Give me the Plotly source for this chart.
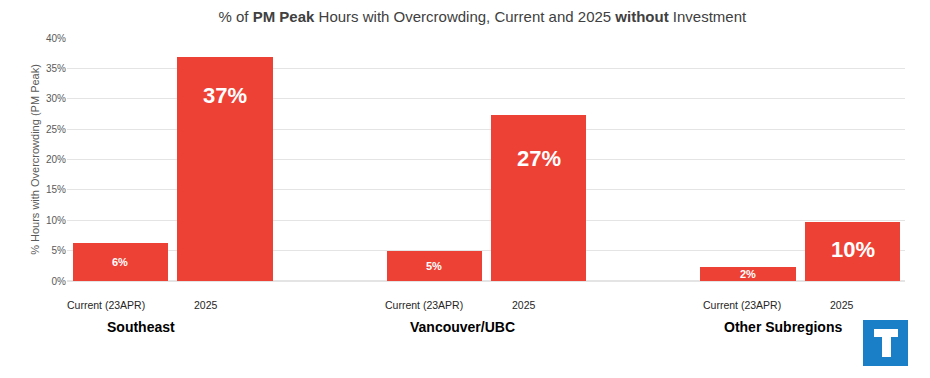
import plotly.graph_objects as go

# ---- data ----
tick_labels = ["Current (23APR)", "2025", "Current (23APR)", "2025", "Current (23APR)", "2025"]
bar_slots = [0, 1, 3, 4, 6, 7]
values = [6.2, 36.9, 4.9, 27.3, 2.3, 9.7]
value_labels = ["6%", "37%", "5%", "27%", "2%", "10%"]
groups = ["Southeast", "Vancouver/UBC", "Other Subregions"]

# ---- styling ----
label_sizes = [11, 22, 11, 22, 11, 22]
label_shift = [-19, -39, -15, -43, -7, -27]
tick_shift = [-14, -19, -10, -15, -6, -11]
group_x = [0.2, 3.27, 6.33]
BAR = "#EE4136"
GREY = "#595959"

OFF = 8  # page body margin
W, H = 930 - OFF, 378 - OFF
PL, PR, PT, PB = 67, 905, 38, 281  # plot area in window pixels
ML, MT = PL - OFF, PT - OFF
MR = W - (PR - OFF)
MB = H - (PB - OFF)
pw, ph = PR - PL, PB - PT

fig = go.Figure()
fig.add_trace(go.Bar(x=bar_slots, y=values, width=0.91, marker=dict(color=BAR, line=dict(width=0)),
                     hoverinfo="skip"))

for xs, v, t, s, dy in zip(bar_slots, values, value_labels, label_sizes, label_shift):
    fig.add_annotation(x=xs, y=v, xref="x", yref="y", text=f"<b>{t}</b>", showarrow=False,
                       yshift=dy, font=dict(family="Liberation Sans, Arial", size=s, color="white"))


def px(x):
    return (x - PL) / pw


def py(y):
    return (PB - y) / ph


for xs, t, dx in zip(bar_slots, tick_labels, tick_shift):
    fig.add_annotation(x=xs, y=py(305), xref="x", yref="paper", text=t, showarrow=False,
                       xshift=dx, yanchor="middle",
                       font=dict(family="Liberation Sans, Arial", size=10.5, color="#262626"))

for gx, g in zip(group_x, groups):
    fig.add_annotation(x=gx, y=py(327), xref="x", yref="paper", text=f"<b>{g}</b>",
                       showarrow=False, yanchor="middle",
                       font=dict(family="Liberation Sans, Arial", size=14, color="black"))

# logo
fig.add_shape(type="rect", xref="paper", yref="paper", x0=px(863), x1=px(908), y0=py(366), y1=py(320),
              fillcolor="#1B7FC7", line=dict(width=0), layer="above")
fig.add_shape(type="rect", xref="paper", yref="paper", x0=px(874), x1=px(898), y0=py(337), y1=py(329),
              fillcolor="white", line=dict(width=0), layer="above")
fig.add_shape(type="rect", xref="paper", yref="paper", x0=px(882), x1=px(891), y0=py(357), y1=py(329),
              fillcolor="white", line=dict(width=0), layer="above")

fig.update_layout(
    width=W, height=H,
    margin=dict(l=ML, r=MR, t=MT, b=MB, autoexpand=False),
    paper_bgcolor="white", plot_bgcolor="white",
    showlegend=False, bargap=0,
    title=dict(text="% of <b>PM Peak</b> Hours with Overcrowding, Current and 2025 <b>without</b> Investment",
               x=(465 - OFF) / W, xanchor="center", xref="paper", y=1 - (17 - OFF) / H, yanchor="middle",
               font=dict(family="Liberation Sans, Arial", size=15, color="#404040")),
    font=dict(family="Liberation Sans, Arial", color=GREY),
)
fig.update_xaxes(range=[-0.51, 7.5], tickvals=bar_slots, showticklabels=False, showgrid=False,
                 zeroline=False, showline=False, ticks="")
fig.update_yaxes(range=[0, 40], dtick=5, ticksuffix="%", showgrid=True, gridcolor="#E4E4E4", gridwidth=1,
                 zeroline=True, zerolinecolor="#E4E4E4", showline=False, ticks="",
                 tickfont=dict(size=10, color=GREY),
                 title=dict(text="% Hours with Overcrowding (PM Peak)", font=dict(size=11, color=GREY),
                            standoff=4))

fig.write_html("out.html")
